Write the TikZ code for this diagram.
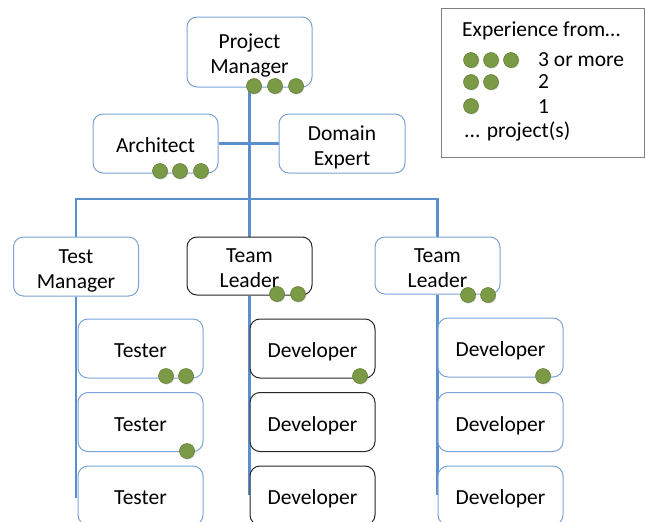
\documentclass[tikz,border=0pt]{standalone}
\usepackage{fontspec}
\setmainfont{Carlito}
\usetikzlibrary{backgrounds,shadows}
\definecolor{boxblue}{HTML}{7BA3D6}
\definecolor{lineblue}{HTML}{5B8FCC}
\definecolor{dotgreen}{HTML}{7A9A45}
\definecolor{dotdark}{HTML}{5F7A33}
\definecolor{legendgray}{HTML}{808080}
\newcommand\tophold{\rule{0pt}{24pt}}
\newcommand\bothold{\rule[-6pt]{0pt}{6pt}}
\tikzset{
  orgbox/.style={draw=boxblue, line width=1pt, rounded corners=10pt, fill=white,
    minimum width=125pt, minimum height=59pt, align=center, inner sep=1pt,
    font=\fontsize{21.5}{25}\selectfont,
    execute at begin node=\tophold, execute at end node=\bothold},
  twoline/.style={execute at begin node={}, execute at end node={}},
  darkbox/.style={orgbox, draw=black!85},
  conn/.style={draw=lineblue, line width=2.6pt},
  expdot/.style={circle, fill=dotgreen, draw=dotdark, line width=0.5pt,
    minimum size=15pt, inner sep=0pt,
    drop shadow={shadow xshift=0.8pt, shadow yshift=-1pt, opacity=0.35}},
  legtext/.style={anchor=base west, inner sep=0pt, font=\fontsize{21.5}{25}\selectfont},
}
\begin{document}
\begin{tikzpicture}[x=1pt,y=-1pt]
\useasboundingbox (0,0) rectangle (646,522);
\clip (0,0) rectangle (646,522);
% boxes
\node[orgbox, twoline, minimum height=70pt] (pm) at (249.5,52) {\tophold Project\\Manager\bothold};
\node[orgbox] (arch) at (155.5,143.5) {Architect};
\node[orgbox, twoline, minimum width=126pt] (de) at (342,143.5) {\tophold Domain\\Expert\bothold};
\node[orgbox, twoline] (tm) at (76,266.5) {\tophold Test\\Manager\bothold};
\node[darkbox, twoline, minimum height=58pt] (tlm) at (249.5,266) {\tophold Team\\Leader\bothold};
\node[orgbox, twoline, minimum height=57pt] (tlr) at (437.5,265.5) {\tophold Team\\Leader\bothold};
\node[orgbox] (t1) at (140.5,348.5) {Tester};
\node[orgbox] (t2) at (140.5,422) {Tester};
\node[orgbox] (t3) at (140.5,495.5) {Tester};
\node[darkbox] (dm1) at (312.5,348.5) {Developer};
\node[darkbox] (dm2) at (312.5,422) {Developer};
\node[darkbox] (dm3) at (312.5,495.5) {Developer};
\node[orgbox] (dr1) at (500.5,347.5) {Developer};
\node[orgbox] (dr2) at (500.5,422) {Developer};
\node[orgbox] (dr3) at (500.5,495.5) {Developer};
% connector end points
\coordinate (busR) at (437.5,199);
\coordinate (tmEnd) at (76,498);
\coordinate (tlmEnd) at (249.5,495);
\coordinate (tlrEnd) at (437.5,495);
\begin{pgfonlayer}{background}
\draw[conn] (pm.south) -- (tlm.north);
\draw[conn] (arch.east) -- (de.west);
\draw[conn] (tm.north) |- (busR) -- (tlr.north);
\draw[conn] (tm.south) -- (tmEnd);
\draw[conn] (tlm.south) -- (tlmEnd);
\draw[conn] (tlr.south) -- (tlrEnd);
\end{pgfonlayer}
% experience dots
\node[expdot] (pmd1) at (254,86) {};
\node[expdot] (pmd2) at (275,86) {};
\node[expdot] (pmd3) at (296,86) {};
\node[expdot] (ad1) at (160,171) {};
\node[expdot] (ad2) at (180,171) {};
\node[expdot] (ad3) at (201,171) {};
\node[expdot] (tlmd1) at (277,294) {};
\node[expdot] (tlmd2) at (298,294) {};
\node[expdot] (tlrd1) at (468,295) {};
\node[expdot] (tlrd2) at (488,295) {};
\node[expdot] (t1d1) at (166,376) {};
\node[expdot] (t1d2) at (186,376) {};
\node[expdot] (t2d1) at (187,451) {};
\node[expdot] (dm1d1) at (360,376) {};
\node[expdot] (dr1d1) at (543,376) {};
% legend
\node[draw=legendgray, line width=1pt, minimum width=203pt, minimum height=149pt, inner sep=0pt] (legend) at (542.5,82.5) {};
\node[legtext] (lt0) at (462,36) {Experience from…};
\node[expdot] (l1a) at (471,60) {};
\node[expdot] (l1b) at (491,60) {};
\node[expdot] (l1c) at (511,60) {};
\node[legtext] (lt1) at (538,66) {3 or more};
\node[expdot] (l2a) at (471,82) {};
\node[expdot] (l2b) at (491,82) {};
\node[legtext] (lt2) at (538,88) {2};
\node[expdot] (l3a) at (471,106) {};
\node[legtext] (lt3) at (538,113) {1};
\node[legtext] (lt4) at (464,137) {... project(s)};
\end{tikzpicture}
\end{document}
